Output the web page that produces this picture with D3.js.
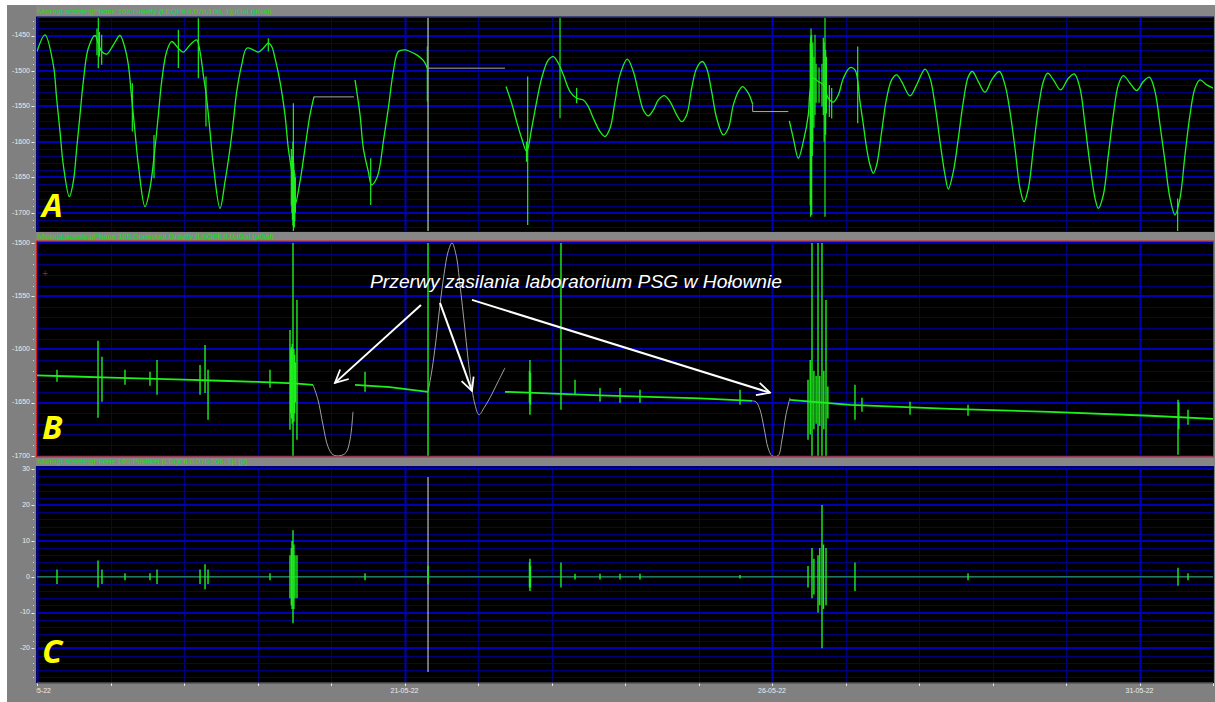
<!DOCTYPE html>
<html><head><meta charset="utf-8">
<script src="https://cdn.jsdelivr.net/npm/d3@7"></script>
<style>body{margin:0;background:#fff;overflow:hidden}svg{display:block}</style>
</head><body>
<svg id="chart" width="1215" height="702"></svg>
<script>
// ---------------- DATA ----------------
// time in days since 16-05-2022 00:00 UTC
const xTickLabels = ["16-05-22","21-05-22","26-05-22","31-05-22"];
const headerTexts = [
  "MicrogLacoste:gPhone 165:Gravity (LSQFit 0.070,100, 1)\u00b5Gal (\u00b5Gal)",
  "MicrogLacoste:gPhone 165:Corrected Gravity (LSQFit 0.0\u00b5Gal (\u00b5Gal)",
  "MicrogLacoste:gPhone 165:Position (LSQFit 0.070,100, 1\u00b5 (\u00b5)"
];
const panelLetters = ["A","B","C"];
const yTicksA = [-1450,-1500,-1550,-1600,-1650,-1700];
const yTicksB = [-1500,-1550,-1600,-1650,-1700];
const yTicksC = [30,20,10,0,-10,-20];
const annotationText = "Przerwy zasilania laboratorium PSG w Hołownie";

// Panel A : gravity (green segments) and gaps (grey)
const gravitySeg1 = [[0.0,-1472.6],[0.109,-1449.0],[0.222,-1491.4],[0.267,-1538.5],[0.313,-1585.6],[0.358,-1632.7],[0.440,-1677.4],[0.494,-1656.2],[0.540,-1609.1],[0.585,-1562.0],[0.630,-1515.0],[0.698,-1467.9],[0.789,-1450.0],[0.834,-1460.8],[0.880,-1472.6],[0.948,-1476.3],[1.039,-1463.2],[1.129,-1450.0],[1.197,-1467.9],[1.243,-1491.4],[1.288,-1538.5],[1.333,-1585.6],[1.379,-1632.7],[1.469,-1691.5],[1.537,-1665.6],[1.605,-1609.1],[1.651,-1562.0],[1.696,-1515.0],[1.764,-1472.6],[1.832,-1458.5],[1.923,-1467.9],[1.991,-1473.5],[2.082,-1463.2],[2.172,-1456.1],[2.218,-1472.6],[2.263,-1505.5],[2.308,-1538.5],[2.354,-1585.6],[2.399,-1632.7],[2.490,-1693.9],[2.558,-1656.2],[2.626,-1609.1],[2.671,-1571.5],[2.717,-1529.1],[2.785,-1491.4],[2.853,-1467.9],[2.943,-1470.2],[3.011,-1473.5],[3.079,-1467.9],[3.147,-1460.8],[3.193,-1465.5],[3.238,-1482.0],[3.306,-1515.0],[3.374,-1562.0],[3.419,-1609.1],[3.465,-1642.1],[3.510,-1689.2],[3.578,-1656.2],[3.646,-1609.1],[3.714,-1562.0],[3.769,-1536.1]];
const gravitySeg2 = [[4.327,-1512.6],[4.395,-1562.0],[4.440,-1609.1],[4.508,-1642.1],[4.553,-1660.9],[4.621,-1651.5],[4.667,-1632.7],[4.712,-1599.7],[4.780,-1552.6],[4.848,-1500.8],[4.916,-1472.6],[5.007,-1470.2],[5.075,-1472.6],[5.166,-1477.3],[5.256,-1485.0],[5.311,-1496.1]];
const gravitySeg3 = [[6.381,-1522.0],[6.458,-1545.6],[6.526,-1571.5],[6.594,-1595.0],[6.662,-1613.8],[6.730,-1580.9],[6.798,-1543.2],[6.866,-1510.3],[6.957,-1484.4],[7.025,-1479.7],[7.093,-1489.1],[7.161,-1505.5],[7.252,-1529.1],[7.343,-1538.5],[7.433,-1540.9],[7.501,-1550.3],[7.569,-1566.7],[7.660,-1585.6],[7.728,-1592.6],[7.796,-1580.9],[7.864,-1543.2],[7.932,-1505.5],[8.032,-1483.4],[8.113,-1500.8],[8.181,-1529.1],[8.249,-1555.0],[8.318,-1563.4],[8.386,-1555.0],[8.454,-1540.9],[8.535,-1534.7],[8.613,-1543.2],[8.703,-1562.0],[8.771,-1571.5],[8.839,-1562.0],[8.907,-1524.4],[8.975,-1496.1],[9.052,-1486.7],[9.111,-1496.1],[9.179,-1529.1],[9.247,-1566.7],[9.338,-1590.3],[9.406,-1580.9],[9.474,-1547.9],[9.542,-1529.1],[9.601,-1522.0],[9.678,-1531.4],[9.737,-1547.0]];
const gravitySeg4 = [[10.236,-1570.5],[10.290,-1595.0],[10.358,-1623.2],[10.426,-1599.7],[10.494,-1562.0],[10.517,-1529.1],[10.562,-1510.3],[10.630,-1515.0],[10.698,-1519.7],[10.766,-1538.5],[10.834,-1544.1],[10.902,-1533.8],[10.971,-1510.3],[11.061,-1495.2],[11.129,-1498.5],[11.197,-1543.2],[11.243,-1576.2],[11.288,-1609.1],[11.333,-1632.7],[11.379,-1644.4],[11.424,-1632.7],[11.492,-1585.6],[11.560,-1538.5],[11.628,-1512.6],[11.696,-1505.5],[11.764,-1515.0],[11.878,-1535.2],[11.968,-1519.7],[12.082,-1497.5],[12.150,-1510.3],[12.218,-1547.9],[12.286,-1599.7],[12.354,-1646.8],[12.399,-1666.6],[12.467,-1642.1],[12.535,-1595.0],[12.603,-1543.2],[12.671,-1508.0],[12.726,-1500.8],[12.807,-1515.0],[12.898,-1530.0],[12.989,-1512.6],[13.093,-1500.8],[13.170,-1519.7],[13.238,-1557.3],[13.306,-1609.1],[13.374,-1665.6],[13.429,-1684.4],[13.488,-1665.6],[13.556,-1609.1],[13.624,-1552.6],[13.692,-1515.0],[13.751,-1503.2],[13.828,-1512.6],[13.928,-1526.7],[14.032,-1510.3],[14.113,-1504.1],[14.190,-1524.4],[14.259,-1576.2],[14.327,-1632.7],[14.395,-1679.7],[14.440,-1693.9],[14.508,-1675.0],[14.576,-1618.5],[14.644,-1562.0],[14.712,-1519.7],[14.780,-1506.5],[14.871,-1517.3],[14.961,-1527.7],[15.052,-1515.0],[15.134,-1508.8],[15.211,-1529.1],[15.279,-1576.2],[15.347,-1628.0],[15.415,-1679.7],[15.483,-1703.3],[15.551,-1679.7],[15.619,-1618.5],[15.687,-1562.0],[15.755,-1524.4],[15.823,-1512.6],[15.914,-1519.7],[16.027,-1525.3]];
const gravityGaps = [
  [[3.769,-1536.6],[4.313,-1536.6]],
  [[5.311,-1496.1],[6.367,-1496.1]],
  [[9.737,-1547.0],[9.737,-1557.3],[10.222,-1557.3]]
];
// spikes: [day, low, high]
const gravitySpikes = [[0.816,-1478,-1440],[0.834,-1496.1,-1424.6],[0.850,-1480,-1445],[0.880,-1491.4,-1449],[1.297,-1585.6,-1517.3],[1.592,-1651.5,-1590.3],[1.923,-1496,-1442],[2.195,-1510.3,-1425.5],[2.299,-1578.5,-1508],[3.147,-1472.6,-1453.8],[3.460,-1690,-1610],[3.468,-1700,-1630],[3.475,-1710,-1620],[3.482,-1718,-1600],[3.488,-1725.8,-1545.6],[3.494,-1722,-1630],[3.500,-1720,-1640],[3.508,-1712,-1645],[3.515,-1700,-1650],[4.540,-1689,-1623],[5.311,-1543.2,-1465.5],[6.660,-1628,-1600],[6.676,-1717.4,-1507.9],[7.116,-1566.7,-1424.6],[7.342,-1545.6,-1524],[10.520,-1690,-1460],[10.526,-1705.6,-1451.4],[10.531,-1690,-1440],[10.540,-1703.3,-1449],[10.548,-1620,-1470],[10.555,-1600,-1460],[10.570,-1580,-1480],[10.585,-1562,-1449],[10.600,-1545,-1490],[10.640,-1545,-1495],[10.680,-1550,-1490],[10.698,-1562,-1453],[10.710,-1600,-1460],[10.721,-1705.6,-1424.6],[10.730,-1590,-1470],[10.740,-1560,-1480],[10.780,-1565,-1520],[10.812,-1567,-1524],[11.166,-1573.8,-1465.5],[15.519,-1725.8,-1680]];

// Panel B : corrected gravity
const correctedSegs = [
  [[0,-1624.5],[0.5,-1625.5],[1,-1626.5],[1.5,-1627.5],[2,-1628.5],[2.5,-1629.5],[3,-1630.5],[3.5,-1632],[3.755,-1633.3]],
  [[4.327,-1633.3],[4.8,-1635.5],[5.32,-1639.9]],
  [[6.367,-1639.9],[7.66,-1643.2],[9.02,-1646.0],[9.728,-1648.4]],
  [[10.245,-1647.4],[11.061,-1652.1],[12.422,-1655.9],[13.782,-1658.7],[15.143,-1662.4],[16.0,-1665.3]]
];
const correctedGaps = [
  [[3.755,-1633.3],[3.823,-1647.4],[3.891,-1671.0],[3.959,-1691.5],[4.027,-1699.0],[4.122,-1700.0],[4.204,-1697.0],[4.259,-1685.0],[4.299,-1658.7]],
  [[5.320,-1640.0],[5.374,-1619.2],[5.429,-1591.0],[5.483,-1558.0],[5.537,-1530.0],[5.592,-1508.5],[5.646,-1500.0],[5.701,-1511.0],[5.755,-1539.4],[5.823,-1581.7],[5.891,-1624.0],[5.959,-1652.0],[6.014,-1661.5],[6.082,-1655.0],[6.163,-1645.5],[6.272,-1630.5],[6.367,-1617.4]],
  [[9.728,-1648.4],[9.782,-1649.3],[9.837,-1656.8],[9.891,-1673.7],[9.946,-1692.5],[10.0,-1700.0],[10.082,-1700.0],[10.136,-1685.0],[10.19,-1661.5],[10.245,-1645.5]]
];
const correctedSpikes = [[0.272,-1630.5,-1619.2],[0.830,-1664.3,-1592],[0.884,-1649.3,-1607],[1.197,-1633.3,-1619.2],[1.537,-1634.3,-1621.1],[1.633,-1642.7,-1609.9],[2.218,-1642.7,-1614.6],[2.286,-1641,-1595.8],[2.327,-1666.2,-1619.2],[3.170,-1636,-1619.2],[3.442,-1675.6,-1581.7],[3.452,-1660,-1600],[3.462,-1665,-1598],[3.472,-1670,-1595],[3.483,-1700,-1500],[3.495,-1668,-1600],[3.505,-1660,-1605],[3.515,-1650,-1612],[3.537,-1685,-1553.5],[4.463,-1639.9,-1621.1],[5.320,-1700,-1500],[6.700,-1650,-1620],[6.707,-1661.5,-1609.9],[6.714,-1652,-1622],[7.129,-1656.8,-1500],[7.320,-1642.7,-1628.6],[7.660,-1649.3,-1636.2],[7.932,-1650.2,-1636.2],[8.204,-1650.2,-1638],[9.565,-1652.1,-1638],[10.490,-1685,-1628.6],[10.520,-1680,-1610],[10.544,-1700,-1500],[10.570,-1675,-1620],[10.600,-1670,-1625],[10.626,-1700,-1500],[10.650,-1672,-1625],[10.680,-1700,-1500],[10.705,-1675,-1620],[10.735,-1700,-1553.5],[10.760,-1665,-1635],[11.129,-1666.2,-1633.3],[11.224,-1658.7,-1645.5],[11.878,-1661.5,-1649.3],[12.667,-1662.4,-1652.1],[15.524,-1699,-1647.4],[15.535,-1675,-1650],[15.660,-1670.9,-1656.8]];

// Panel C : position
const positionBase = [[0,0],[16,0]];
const positionSpikes = [[0.272,-2,2],[0.830,-3,4.5],[0.884,-2,2],[1.197,-1,1],[1.537,-1,1],[1.633,-2,2],[2.218,-2,2],[2.286,-3.5,3.5],[2.327,-2,2],[3.170,-1,1],[3.442,-6,6],[3.460,-8,8],[3.470,-9,10],[3.483,-13,13],[3.495,-9,9],[3.510,-6,6],[3.537,-6,6],[4.463,-1,1],[5.320,-2,3],[6.700,-3,4],[6.707,-4,5],[6.714,-3,3],[7.129,-3,4],[7.320,-0.8,0.8],[7.660,-0.8,0.8],[7.932,-0.8,0.8],[8.204,-0.8,0.8],[9.565,-0.5,0.5],[10.490,-3,3],[10.544,-6,8],[10.570,-5,5],[10.626,-10,6],[10.650,-8,8],[10.680,-20,20],[10.700,-9,9],[10.735,-8,8],[11.129,-4,4],[12.667,-1,1],[15.524,-2.5,2.5],[15.660,-1,1]];
const cursorDay = 5.32;

// annotation arrows in panel B data coords: [fromDay, fromVal, toDay, toVal]
const annotationArrows = [[5.224,-1558.2,4.054,-1631.5],[5.483,-1556.3,5.918,-1639.0],[5.918,-1553.5,9.973,-1640.8]];
const annotationPos = [4.531,-1542.3];

// ---------------- DRAW ----------------
const W=1215,H=702;
const svg=d3.select("#chart");
const START=Date.UTC(2022,4,16), DAY=864e5;
const toDate=d=>new Date(START+d*DAY);
const PL=37, PR=1213;
const x=d3.scaleUtc().domain([toDate(0),toDate(16)]).range([PL,PR]);
const fmt=d3.utcFormat("%d-%m-%y");

svg.append("rect").attr("width",W).attr("height",H).attr("fill","#ffffff");
svg.append("rect").attr("x",7).attr("y",5).attr("width",W-7).attr("height",H-5).attr("fill","#808080");

const panels=[
  {top:17.5,bottom:231,domain:[-1725.8,-1424.6],ticks:yTicksA,minor:10,hdr:[5,17.5],border:"#000070"},
  {top:241.5,bottom:456.5,domain:[-1700.7,-1498.6],ticks:yTicksB,minor:10,hdr:[231.5,241],border:"#d02020"},
  {top:467,bottom:682,domain:[-29.4,30.64],ticks:yTicksC,minor:2,hdr:[456.5,467],border:"#000070"}
];
const dayTicks=d3.utcDay.range(toDate(0),toDate(16.01));
const defs=svg.append("defs");
defs.append("marker").attr("id","ah").attr("viewBox","0 0 10 10").attr("refX",9).attr("refY",5)
  .attr("markerWidth",8).attr("markerHeight",8).attr("markerUnits","strokeWidth").attr("orient","auto")
  .append("path").attr("d","M1,1 L9,5 L1,9").attr("fill","none").attr("stroke","#fff").attr("stroke-width",1.1);

panels.forEach((p,i)=>{
  const y=d3.scaleLinear().domain(p.domain).range([p.bottom,p.top]);
  p.y=y;
  const cid="clip"+i;
  defs.append("clipPath").attr("id",cid).append("rect").attr("x",PL).attr("y",p.top).attr("width",PR-PL).attr("height",p.bottom-p.top);
  const lcid="lclip"+i;
  defs.append("clipPath").attr("id",lcid).append("rect").attr("x",0).attr("y",p.top-3).attr("width",PL).attr("height",p.bottom-p.top+5);
  // header band
  svg.append("rect").attr("x",PL-1).attr("y",p.hdr[0]).attr("width",W-PL+1).attr("height",p.hdr[1]-p.hdr[0]).attr("fill","#878787");
  svg.append("text").attr("x",PL+1).attr("y",(p.hdr[0]+p.hdr[1])/2+0.5).attr("dominant-baseline","middle")
    .attr("font-family","Liberation Sans, Arial, sans-serif").attr("font-size",8).attr("fill","#10e010")
    .attr("textLength",[234,236,210][i]).attr("lengthAdjust","spacingAndGlyphs").text(headerTexts[i]);
  // plot bg
  svg.append("rect").attr("x",PL).attr("y",p.top).attr("width",PR-PL).attr("height",p.bottom-p.top).attr("fill","#000");
  const g=svg.append("g").attr("clip-path",`url(#${cid})`);
  const [d0,d1]=p.domain;
  const minorVals=d3.range(Math.ceil(d0/p.minor)*p.minor,d1+0.001,p.minor).filter(v=>Math.abs(v%50)>1e-6 && !(p.minor===2 && Math.abs(v%10)<1e-6));
  const majorStep = p.minor===2?10:50;
  const majorVals=d3.range(Math.ceil(d0/majorStep)*majorStep,d1+0.001,majorStep);
  g.selectAll(".mh").data(minorVals).join("line").attr("x1",PL).attr("x2",PR).attr("y1",v=>Math.round(y(v))+0.5).attr("y2",v=>Math.round(y(v))+0.5)
    .attr("stroke","#00007a").attr("stroke-width",1);
  g.selectAll(".vd").data(dayTicks).join("line").attr("x1",d=>Math.round(x(d))+0.5).attr("x2",d=>Math.round(x(d))+0.5).attr("y1",p.top).attr("y2",p.bottom)
    .attr("stroke",(d,j)=>j%5===0?"#0000b4":"#00007e").attr("stroke-width",(d,j)=>j%5===0?2:1);
  g.selectAll(".Mh").data(majorVals).join("line").attr("x1",PL).attr("x2",PR).attr("y1",v=>Math.round(y(v))).attr("y2",v=>Math.round(y(v)))
    .attr("stroke","#0000b8").attr("stroke-width",2);
  // y labels
  const lg=svg.append("g").attr("clip-path",`url(#${lcid})`);
  lg.selectAll("text").data(p.ticks).join("text").attr("x",30).attr("y",v=>y(v)).attr("dominant-baseline","middle").attr("text-anchor","end")
    .attr("font-family","Liberation Sans, Arial, sans-serif").attr("font-size",7).attr("fill","#ececec").text(v=>v);
  lg.selectAll(".tk").data(p.ticks).join("line").attr("x1",31.5).attr("x2",34.5).attr("y1",v=>Math.round(y(v))+0.5).attr("y2",v=>Math.round(y(v))+0.5).attr("stroke","#ececec").attr("stroke-width",1);
  lg.selectAll(".mt").data(minorVals).join("rect").attr("x",33).attr("y",v=>Math.round(y(v))).attr("width",1).attr("height",1).attr("fill","#dcdcdc");
  p.g=g;
});

const line=(p)=>d3.line().x(d=>x(toDate(d[0]))).y(d=>p.y(d[1])).curve(d3.curveCatmullRom.alpha(0.5));
const lineL=(p)=>d3.line().x(d=>x(toDate(d[0]))).y(d=>p.y(d[1]));
const GREEN="#1ef01e";
// Panel A
{
  const p=panels[0], g=p.g;
  g.append("line").attr("x1",x(toDate(cursorDay))).attr("x2",x(toDate(cursorDay))).attr("y1",p.top).attr("y2",p.bottom).attr("stroke","#d8ffd8").attr("stroke-width",1);
  gravityGaps.forEach(s=>g.append("path").attr("d",lineL(p)(s)).attr("fill","none").attr("stroke","#a8a8a8").attr("stroke-width",1));
  [gravitySeg1,gravitySeg2,gravitySeg3,gravitySeg4].forEach(s=>g.append("path").attr("d",line(p)(s)).attr("fill","none").attr("stroke",GREEN).attr("stroke-width",1.3));
  g.selectAll(".sp").data(gravitySpikes).join("line").attr("x1",d=>x(toDate(d[0]))).attr("x2",d=>x(toDate(d[0]))).attr("y1",d=>p.y(d[1])).attr("y2",d=>p.y(d[2])).attr("stroke",GREEN).attr("stroke-width",1.2);
}
// Panel B
{
  const p=panels[1], g=p.g;
  correctedGaps.forEach(s=>g.append("path").attr("d",line(p)(s)).attr("fill","none").attr("stroke","#a0a0a0").attr("stroke-width",1));
  correctedSegs.forEach(s=>g.append("path").attr("d",lineL(p)(s)).attr("fill","none").attr("stroke",GREEN).attr("stroke-width",1.8));
  g.selectAll(".sp").data(correctedSpikes).join("line").attr("x1",d=>x(toDate(d[0]))).attr("x2",d=>x(toDate(d[0]))).attr("y1",d=>p.y(d[1])).attr("y2",d=>p.y(d[2])).attr("stroke",GREEN).attr("stroke-width",1.4);
  g.append("text").attr("x",PL+8).attr("y",p.top+33).attr("text-anchor","middle").attr("dominant-baseline","middle").attr("font-size",10).attr("font-family","Liberation Sans, sans-serif").attr("fill","#b01010").text("+");
}
// Panel C
{
  const p=panels[2], g=p.g;
  g.append("line").attr("x1",x(toDate(cursorDay))).attr("x2",x(toDate(cursorDay))).attr("y1",p.top+10).attr("y2",p.bottom-10).attr("stroke","#e0e0e0").attr("stroke-width",1);
  g.append("path").attr("d",lineL(p)(positionBase)).attr("fill","none").attr("stroke","#1f7866").attr("stroke-width",1.6);
  g.selectAll(".sp").data(positionSpikes).join("line").attr("x1",d=>x(toDate(d[0]))).attr("x2",d=>x(toDate(d[0]))).attr("y1",d=>p.y(d[1])).attr("y2",d=>p.y(d[2])).attr("stroke",GREEN).attr("stroke-width",1.4);
}
// borders
panels.forEach(p=>{
  svg.append("rect").attr("x",PL-0.5).attr("y",p.top-0.5).attr("width",PR-PL+1).attr("height",p.bottom-p.top+1).attr("fill","none").attr("stroke",p.border).attr("stroke-width",1);
});
// x axis
{
  const yb=panels[2].bottom;
  svg.append("rect").attr("x",PL).attr("y",yb).attr("width",PR-PL).attr("height",1.5).attr("fill","#404040");
  svg.selectAll(".xt").data(dayTicks).join("line").attr("x1",d=>Math.round(x(d))+0.5).attr("x2",d=>Math.round(x(d))+0.5).attr("y1",yb+1.5).attr("y2",yb+4).attr("stroke","#e8e8e8");
  defs.append("clipPath").attr("id","xclip").append("rect").attr("x",PL-0.5).attr("y",yb).attr("width",W-PL).attr("height",H-yb);
  const lab=dayTicks.filter(d=>xTickLabels.includes(fmt(d)));
  svg.append("g").attr("clip-path","url(#xclip)").selectAll("text").data(lab).join("text").attr("x",d=>x(d)).attr("y",yb+9).attr("text-anchor","middle").attr("dominant-baseline","middle")
    .attr("font-family","Liberation Sans, Arial, sans-serif").attr("font-size",7).attr("fill","#ececec").text(d=>fmt(d));
}
// panel letters
const letterY=[217,439,663];
panelLetters.forEach((L,i)=>{
  svg.append("text").attr("x",42).attr("y",letterY[i]).attr("font-family","Open Sans, Liberation Sans, sans-serif").attr("font-weight",700).attr("font-style","italic")
    .attr("font-size",33).attr("fill","#ffff00").text(L);
});
// annotation
{
  const p=panels[1];
  svg.append("text").attr("x",x(toDate(annotationPos[0]))).attr("y",p.y(annotationPos[1])).attr("font-family","Liberation Sans, Arial, sans-serif").attr("font-style","italic")
    .attr("font-size",18).attr("fill","#ffffff").attr("textLength",412).attr("lengthAdjust","spacingAndGlyphs").text(annotationText);
  svg.selectAll(".arr").data(annotationArrows).join("line")
    .attr("x1",d=>x(toDate(d[0]))).attr("y1",d=>p.y(d[1])).attr("x2",d=>x(toDate(d[2]))).attr("y2",d=>p.y(d[3]))
    .attr("stroke","#ffffff").attr("stroke-width",2).attr("marker-end","url(#ah)");
}
</script>
</body></html>
